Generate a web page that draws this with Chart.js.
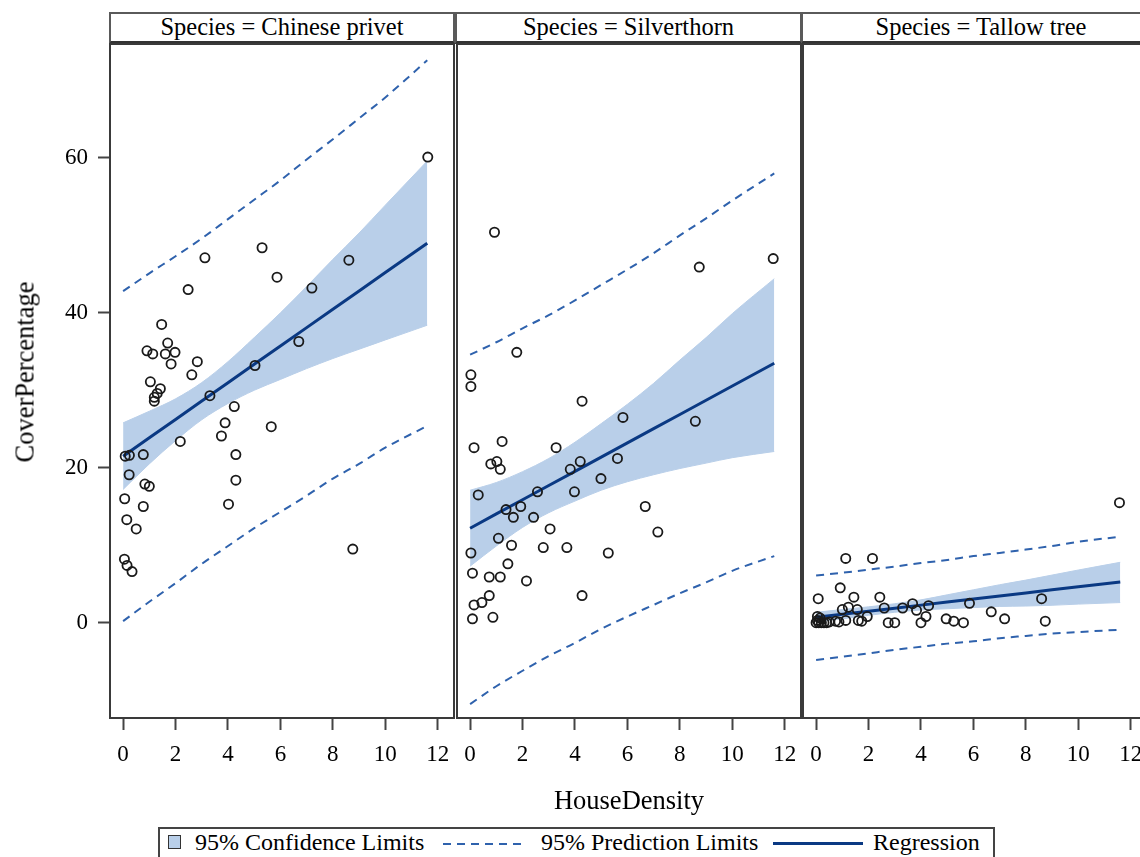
<!DOCTYPE html>
<html>
<head>
<meta charset="utf-8">
<script src="https://cdn.jsdelivr.net/npm/chart.js@4.4.0/dist/chart.umd.min.js"></script>
<style>
  body { margin: 0; width: 1140px; height: 857px; overflow: hidden; background: #fff; position: relative;
         font-family: 'Liberation Serif', 'Times New Roman', serif; color: #000; }
  canvas { position: absolute; top: 42px; }
  .strip { position: absolute; top: 12px; height: 32px; box-sizing: border-box; background: #fff;
           border: 2px solid #5a5a5a; border-bottom: 3px solid #333; text-align: center;
           font-size: 24.5px; line-height: 26px; white-space: nowrap; overflow: hidden; }
  .title { position: absolute; font-size: 26.5px; white-space: nowrap; }
  #legend { position: absolute; left: 158px; top: 827px; width: 837px; height: 40px; box-sizing: border-box;
            border: 2px solid #444; }
  #legend span { position: absolute; top: 1px; font-size: 24px; line-height: 24px; white-space: nowrap; }
  #legend .sw { top: 6px; width: 11px; height: 12px; background: #b9cfe9; border: 1px solid #333; }
  #legend .dash { top: 14px; height: 2px; background: repeating-linear-gradient(to right, #2f62ad 0 8px, transparent 8px 14px); }
  #legend .solid { top: 13px; height: 3px; background: #0a3983; }
</style>
</head>
<body>
<div class="strip" style="left:109px;width:346px">Species = Chinese privet</div>
<div class="strip" style="left:455px;width:347px">Species = Silverthorn</div>
<div class="strip" style="left:801px;width:360px">Species = Tallow tree</div>

<canvas id="c0" width="456" height="740" style="left:0px"></canvas>
<canvas id="c1" width="348" height="740" style="left:455px"></canvas>
<canvas id="c2" width="350" height="740" style="left:801px"></canvas>

<div class="title" style="left:25px;top:372px;transform:translate(-50%,-50%) rotate(-90deg)">CoverPercentage</div>
<div class="title" style="left:629px;top:800px;transform:translate(-50%,-50%)">HouseDensity</div>

<div id="legend">
  <span class="sw" style="left:8px"></span><span style="left:35px">95% Confidence Limits</span>
  <span class="dash" style="left:283px;width:84px"></span><span style="left:381px">95% Prediction Limits</span>
  <span class="solid" style="left:613px;width:90px"></span><span style="left:713px">Regression</span>
</div>

<script>
const species = ['Chinese privet', 'Silverthorn', 'Tallow tree'];
const xTicks = [0, 2, 4, 6, 8, 10, 12];
const yTicks = [0, 20, 40, 60];
const fitX = [0, 1, 2, 3, 4, 5, 6, 7, 8, 9, 10, 11.6];

// Chinese privet
const privetX = [11.62,8.61,5.30,3.12,5.87,7.20,2.48,6.70,1.47,1.70,0.91,1.13,1.61,1.98,1.83,2.83,2.62,1.04,
  1.42,1.30,1.19,1.19,5.03,3.31,4.24,3.89,5.65,3.75,2.18,0.08,0.24,0.77,4.30,0.23,0.83,1.00,4.30,0.06,
  0.77,4.02,0.14,0.50,0.05,0.15,0.34,8.76];
const privetY = [60.1,46.8,48.4,47.1,44.6,43.2,43.0,36.3,38.5,36.1,35.1,34.7,34.7,34.9,33.4,33.7,32.0,31.1,
  30.2,29.6,29.1,28.6,33.2,29.3,27.9,25.8,25.3,24.1,23.4,21.5,21.6,21.7,21.7,19.1,17.9,17.6,18.4,16.0,
  15.0,15.3,13.3,12.1,8.2,7.4,6.6,9.5];
const privetFit = [21.5,23.87,26.24,28.61,30.98,33.35,35.72,38.09,40.46,42.83,45.2,48.99];
const privetClHigh = [25.8,27.3,28.9,31.0,33.7,36.8,40.0,43.4,46.9,50.3,53.9,59.6];
const privetClLow = [17.2,20.5,23.5,26.2,28.3,30.0,31.4,32.8,34.1,35.3,36.5,38.4];
const privetPlHigh = [42.8,45.1,47.3,49.6,52.1,54.6,57.1,59.8,62.4,65.1,67.8,72.6];
const privetPlLow = [0.2,2.7,5.1,7.6,9.9,12.2,14.3,16.4,18.6,20.5,22.6,25.4];

// Silverthorn
const silverX = [0.93,8.74,11.56,1.78,0.03,0.03,4.27,5.83,8.59,0.15,1.22,3.28,0.79,1.02,1.15,5.62,4.20,3.82,
  4.99,2.57,3.98,0.31,6.68,1.93,1.37,1.65,2.42,3.05,7.16,1.08,1.58,2.79,3.69,5.27,0.03,1.44,0.09,0.73,
  1.15,2.15,4.27,0.73,0.45,0.15,0.09,0.87];
const silverY = [50.4,45.9,47.0,34.9,32.0,30.5,28.6,26.5,26.0,22.6,23.4,22.6,20.5,20.8,19.8,21.2,20.8,19.8,
  18.6,16.9,16.9,16.5,15.0,15.0,14.6,13.6,13.6,12.1,11.7,10.9,10.0,9.7,9.7,9.0,9.0,7.6,6.4,5.9,
  5.9,5.4,3.5,3.5,2.6,2.3,0.5,0.7];
const silverFit = [12.2,14.04,15.87,17.71,19.54,21.38,23.21,25.05,26.88,28.72,30.55,33.49];
const silverClHigh = [17.1,18.1,19.5,21.2,23.3,25.7,28.2,30.9,33.9,36.8,39.9,44.4];
const silverClLow = [7.3,9.9,12.3,14.2,15.7,17.1,18.2,19.1,19.9,20.6,21.3,22.1];
const silverPlHigh = [34.6,36.2,38.0,39.7,41.6,43.6,45.6,47.7,50.0,52.2,54.5,58.0];
const silverPlLow = [-10.5,-8.2,-6.2,-4.3,-2.6,-0.8,0.8,2.3,3.8,5.2,6.7,8.6];

// Tallow tree
const tallowX = [0.00,0.05,0.10,0.15,0.20,0.30,0.40,0.50,0.05,0.08,0.74,0.87,0.92,1.00,1.13,1.13,1.23,1.44,
  1.57,1.61,1.74,1.95,2.15,2.43,2.60,2.75,3.00,3.30,3.68,3.83,4.00,4.19,4.29,4.96,5.25,5.62,5.85,6.68,
  7.19,8.60,8.74,11.57];
const tallowY = [0.0,0.3,0.0,0.6,0.0,0.0,0.0,0.1,0.8,3.1,0.2,0.1,4.5,1.7,0.3,8.3,2.0,3.3,
  1.7,0.3,0.2,0.8,8.3,3.3,1.9,0.0,0.0,1.9,2.45,1.6,0.0,0.8,2.2,0.5,0.2,0.0,2.5,1.4,
  0.5,3.1,0.2,15.5];
const tallowFit = [0.7,1.09,1.49,1.88,2.27,2.67,3.06,3.45,3.84,4.24,4.63,5.26];
const tallowClHigh = [1.35,1.7,2.05,2.45,2.95,3.6,4.25,4.9,5.5,6.15,6.8,7.8];
const tallowClLow = [0.15,0.5,0.95,1.35,1.65,1.8,1.95,2.1,2.15,2.25,2.4,2.6];
const tallowPlHigh = [6.1,6.45,6.85,7.25,7.7,8.1,8.6,9.0,9.45,9.9,10.45,11.1];
const tallowPlLow = [-4.8,-4.4,-3.95,-3.5,-3.1,-2.7,-2.4,-2.0,-1.7,-1.4,-1.2,-0.9];

const groups = [
  { x: privetX, y: privetY, fit: privetFit, clHigh: privetClHigh, clLow: privetClLow, plHigh: privetPlHigh, plLow: privetPlLow },
  { x: silverX, y: silverY, fit: silverFit, clHigh: silverClHigh, clLow: silverClLow, plHigh: silverPlHigh, plLow: silverPlLow },
  { x: tallowX, y: tallowY, fit: tallowFit, clHigh: tallowClHigh, clLow: tallowClLow, plHigh: tallowPlHigh, plLow: tallowPlLow }
];

const navy = '#0a3983';
const dashBlue = '#2f62ad';
const band = '#b9cfe9';
const tickFont = { family: "'Liberation Serif', serif", size: 23 };

function pts(xs, ys) {
  return xs.map((x, i) => { return { x: x, y: ys[i] }; });
}

// drop the label overhang padding chart.js adds, so every panel lines up
function noPad(s) {
  s.paddingTop = 0; s.paddingBottom = 0; s.paddingLeft = 0; s.paddingRight = 0;
}

// box round each plot area
const framePlugin = {
  id: 'frame',
  afterDraw: function (chart) {
    const ctx = chart.ctx, a = chart.chartArea;
    ctx.save();
    ctx.strokeStyle = '#3a3a3a';
    ctx.lineWidth = 2;
    ctx.strokeRect(a.left, a.top, a.right - a.left, a.bottom - a.top);
    ctx.restore();
  }
};

function makeChart(id, g, showY, pad) {
  const ctx = document.getElementById(id).getContext('2d');
  return new Chart(ctx, {
    type: 'scatter',
    data: {
      datasets: [
        { label: 'obs', data: pts(g.x, g.y), showLine: false, pointRadius: 4.6, pointBorderWidth: 1.8,
          pointBorderColor: '#1a1a1a', pointBackgroundColor: 'rgba(0,0,0,0)' },
        { label: 'Regression', data: pts(fitX, g.fit), showLine: true, borderColor: navy, borderWidth: 3, pointRadius: 0 },
        { label: 'PL upper', data: pts(fitX, g.plHigh), showLine: true, borderColor: dashBlue, borderWidth: 2,
          borderDash: [8, 6], pointRadius: 0, cubicInterpolationMode: 'monotone' },
        { label: 'PL lower', data: pts(fitX, g.plLow), showLine: true, borderColor: dashBlue, borderWidth: 2,
          borderDash: [8, 6], pointRadius: 0, cubicInterpolationMode: 'monotone' },
        { label: 'CL upper', data: pts(fitX, g.clHigh), showLine: true, borderColor: band, borderWidth: 1,
          backgroundColor: band, fill: '+1', pointRadius: 0, cubicInterpolationMode: 'monotone' },
        { label: 'CL lower', data: pts(fitX, g.clLow), showLine: true, borderColor: band, borderWidth: 1,
          fill: false, pointRadius: 0, cubicInterpolationMode: 'monotone' }
      ]
    },
    options: {
      responsive: false,
      animation: false,
      devicePixelRatio: 1,
      layout: { padding: pad, autoPadding: false },
      plugins: { legend: { display: false }, tooltip: { enabled: false } },
      scales: {
        x: {
          type: 'linear', min: -0.5, max: 12.62,
          afterBuildTicks: (s) => { s.ticks = xTicks.map((v) => { return { value: v }; }); },
          afterFit: (s) => { s.height = 64; noPad(s); },
          border: { display: false },
          grid: { drawOnChartArea: false, drawTicks: true, tickLength: 12, tickColor: '#444', tickWidth: 2 },
          ticks: { color: '#000', font: tickFont, padding: 11, maxRotation: 0, autoSkip: false }
        },
        y: {
          display: showY, min: -12.3, max: 74.7,
          afterBuildTicks: (s) => { s.ticks = yTicks.map((v) => { return { value: v }; }); },
          afterFit: (s) => { s.width = showY ? 110 : 0; noPad(s); },
          border: { display: false },
          grid: { drawOnChartArea: false, drawTicks: true, tickLength: 12, tickColor: '#444', tickWidth: 2 },
          ticks: { color: '#000', font: tickFont, padding: 10 }
        }
      }
    },
    plugins: [framePlugin]
  });
}

makeChart('c0', groups[0], true, { top: 2, right: 2, left: 0, bottom: 0 });
makeChart('c1', groups[1], false, { top: 2, right: 2, left: 2, bottom: 0 });
makeChart('c2', groups[2], false, { top: 2, right: 4, left: 2, bottom: 0 });
</script>
</body>
</html>
